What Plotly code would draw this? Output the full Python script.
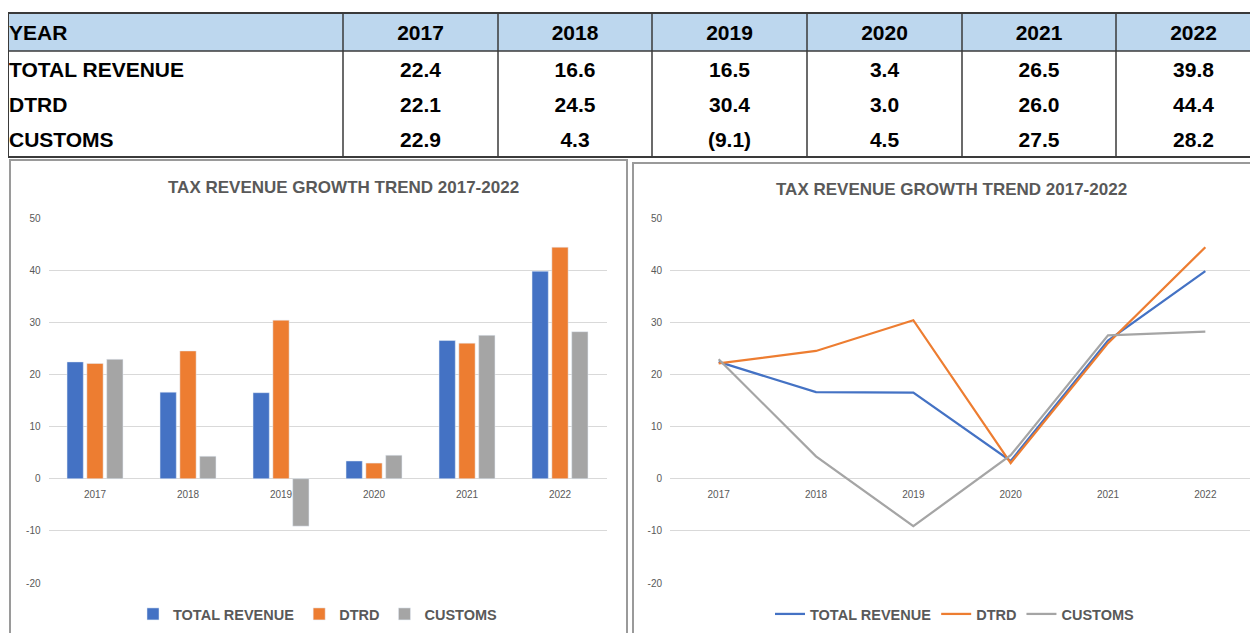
import plotly.graph_objects as go

# ---------------- data ----------------
years = ["2017", "2018", "2019", "2020", "2021", "2022"]
total_revenue = [22.4, 16.6, 16.5, 3.4, 26.5, 39.8]
dtrd = [22.1, 24.5, 30.4, 3.0, 26.0, 44.4]
customs = [22.9, 4.3, -9.1, 4.5, 27.5, 28.2]
series_names = ["TOTAL REVENUE", "DTRD", "CUSTOMS"]
y_ticks = [-20, -10, 0, 10, 20, 30, 40, 50]
chart_title = "TAX REVENUE GROWTH TREND 2017-2022"
header_label = "YEAR"

# ---------------- styling / layout ----------------
W, H = 1258, 633
OFF = 8  # default page body margin
colors = ["#4472C4", "#ED7D31", "#A5A5A5"]
TXT = "#595959"
GRID = "#D9D9D9"
FONT = "Liberation Sans"


def px(x):
    return (x - OFF) / W


def py(y):
    return 1 - (y - OFF) / H


def fmt(v):
    return f"({abs(v):.1f})" if v < 0 else f"{v:.1f}"


series_values = [total_revenue, dtrd, customs]

fig = go.Figure()

# ---------------- table (drawn on its own pixel-scaled axes) ----------------
col_edges = [8, 343, 498, 652, 807, 962, 1116, 1271]
row_edges = [13, 51, 87, 122, 157]
TEXT_DY = 2.5
col_centers = [(a + b) / 2 for a, b in zip(col_edges[1:-1], col_edges[2:])]
row_centers = [(a + b) / 2 + TEXT_DY for a, b in zip(row_edges[:-1], row_edges[1:])]
first_col_x = 9

tfont = dict(family=FONT, size=21, color="black", weight="bold")

fig.add_trace(go.Scatter(
    x=[first_col_x] * 4, y=row_centers, text=[header_label] + series_names,
    mode="text", textposition="middle right", textfont=tfont,
    xaxis="x3", yaxis="y3", showlegend=False, hoverinfo="skip", cliponaxis=False))
fig.add_trace(go.Scatter(
    x=col_centers, y=[row_centers[0]] * len(years), text=years,
    mode="text", textposition="middle center", textfont=tfont,
    xaxis="x3", yaxis="y3", showlegend=False, hoverinfo="skip", cliponaxis=False))
for r, vals in enumerate(series_values):
    fig.add_trace(go.Scatter(
        x=col_centers, y=[row_centers[r + 1]] * len(vals), text=[fmt(v) for v in vals],
        mode="text", textposition="middle center", textfont=tfont,
        xaxis="x3", yaxis="y3", showlegend=False, hoverinfo="skip", cliponaxis=False))

shapes = []
line_col = "#3A3A3A"
shapes.append(dict(type="rect", xref="x3", yref="y3", x0=col_edges[0], x1=col_edges[-1],
                   y0=row_edges[0], y1=row_edges[1], fillcolor="#BDD7EE",
                   line=dict(width=0), layer="below"))
shapes.append(dict(type="rect", xref="x3", yref="y3", x0=col_edges[0], x1=col_edges[-1],
                   y0=row_edges[0], y1=row_edges[-1], line=dict(color=line_col, width=2)))
shapes.append(dict(type="line", xref="x3", yref="y3", x0=col_edges[0], x1=col_edges[-1],
                   y0=row_edges[1], y1=row_edges[1], line=dict(color=line_col, width=1.5)))
for xe in col_edges[1:-1]:
    shapes.append(dict(type="line", xref="x3", yref="y3", x0=xe, x1=xe,
                       y0=row_edges[0], y1=row_edges[-1], line=dict(color=line_col, width=1.5)))

# chart frames
shapes.append(dict(type="rect", xref="paper", yref="paper", x0=px(10), x1=px(627),
                   y0=py(645), y1=py(160), line=dict(color="#9A9A9A", width=2)))
shapes.append(dict(type="rect", xref="paper", yref="paper", x0=px(633), x1=px(1270),
                   y0=py(645), y1=py(163), line=dict(color="#9A9A9A", width=2)))

# ---------------- bar chart ----------------
for name, vals, c in zip(series_names, series_values, colors):
    fig.add_trace(go.Bar(x=years, y=vals, name=name, marker_color=c,
                         xaxis="x", yaxis="y", legend="legend"))

# ---------------- line chart ----------------
for name, vals, c in zip(series_names, series_values, colors):
    fig.add_trace(go.Scatter(x=years, y=vals, name=name, mode="lines",
                             line=dict(color=c, width=2.25),
                             xaxis="x2", yaxis="y2", legend="legend2"))

ydom = [py(583), py(218)]
zero_pos = py(479)
axis_font = dict(family=FONT, size=10, color=TXT)
tick_text = [str(v) for v in y_ticks]

common_x = dict(type="category", anchor="free", position=zero_pos, showgrid=False,
                showline=False, zeroline=False, ticks="outside", ticklen=6,
                tickcolor="rgba(0,0,0,0)", tickfont=axis_font, automargin=False,
                range=[-0.5, 5.5], fixedrange=True)
common_y = dict(range=[-20, 50], tickvals=y_ticks, ticktext=tick_text, showgrid=True,
                gridcolor=GRID, gridwidth=1, zeroline=False, showline=False,
                ticks="outside", ticklen=5, tickcolor="rgba(0,0,0,0)",
                tickfont=axis_font, automargin=False, fixedrange=True)

legend_common = dict(orientation="h", xanchor="center", yanchor="middle",
                     font=dict(family=FONT, size=14.5, color=TXT, weight="bold"),
                     bgcolor="rgba(0,0,0,0)", itemwidth=30, traceorder="normal")

fig.update_layout(
    width=W, height=H,
    margin=dict(l=0, r=0, t=0, b=0, autoexpand=False),
    paper_bgcolor="white", plot_bgcolor="rgba(0,0,0,0)",
    barmode="group", bargap=0.36, bargroupgap=0.18,
    showlegend=True,
    shapes=shapes,
    xaxis=dict(domain=[px(48.5), px(606.5)], **common_x),
    yaxis=dict(domain=ydom, anchor="x", **common_y),
    xaxis2=dict(domain=[px(670), px(1254)], **common_x),
    yaxis2=dict(domain=ydom, anchor="x2", **common_y),
    xaxis3=dict(domain=[0, 1], range=[OFF, OFF + W], visible=False, fixedrange=True),
    yaxis3=dict(domain=[0, 1], range=[OFF + H, OFF], visible=False, fixedrange=True,
                anchor="x3"),
    legend=dict(x=px(318), y=py(614), **legend_common),
    legend2=dict(x=px(955), y=py(614), **legend_common),
    annotations=[
        dict(text=chart_title, xref="paper", yref="paper", x=px(343), y=py(187),
             xanchor="center", yanchor="middle", showarrow=False,
             font=dict(family=FONT, size=17, color=TXT, weight="bold")),
        dict(text=chart_title, xref="paper", yref="paper", x=px(951), y=py(189),
             xanchor="center", yanchor="middle", showarrow=False,
             font=dict(family=FONT, size=17, color=TXT, weight="bold")),
    ],
)

fig.write_html("out.html")
